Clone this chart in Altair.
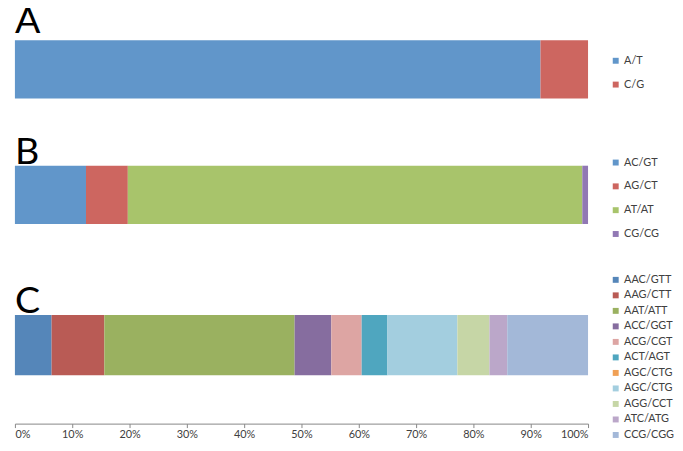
import altair as alt
import pandas as pd

a_cats = ["A/T", "C/G"]
a_vals = [91.7, 8.3]
a_colors = ["#6196CA", "#CD6660"]

b_cats = ["AC/GT", "AG/CT", "AT/AT", "CG/CG"]
b_vals = [12.4, 7.3, 79.3, 1.0]
b_colors = ["#6196CA", "#CD6660", "#A8C46B", "#9178B4"]

c_cats = ["AAC/GTT", "AAG/CTT", "AAT/ATT", "ACC/GGT", "ACG/CGT", "ACT/AGT",
          "AGC/CTG", "AGC/CTG ", "AGG/CCT", "ATC/ATG", "CCG/CGG"]
c_vals = [6.4, 9.2, 33.2, 6.4, 5.3, 4.5, 0.0, 12.2, 5.6, 3.1, 14.1]
c_colors = ["#5586B9", "#B95B55", "#9AB160", "#866D9F", "#DDA5A3", "#4FA6BF",
            "#F0A055", "#A3CEDF", "#C6D6A6", "#BBA7C9", "#A3B8D8"]

tick_values = [i / 10 for i in range(11)]

FONT = "Lato"


def panel(letter, cats, vals, colors, height, pad_outer, title_dy,
          legend_y, row_pad, show_axis):
    df = pd.DataFrame({"cat": cats, "val": vals, "idx": list(range(len(cats))),
                       "panel": [letter] * len(cats)})
    if show_axis:
        x_axis = alt.Axis(format=".0%", values=tick_values, grid=False, title=None,
                          offset=49, domainColor="#868686", tickColor="#868686",
                          tickSize=4, labelFont=FONT, labelFontSize=11,
                          labelColor="#404040", labelPadding=1)
    else:
        x_axis = None
    return alt.Chart(df, title=alt.Title(letter, anchor="start", frame="group",
                                         fontSize=38, font=FONT, fontWeight="normal",
                                         color="black", offset=0, dy=title_dy)).mark_bar().encode(
        x=alt.X("val:Q", stack="normalize", scale=alt.Scale(domain=[0, 1], nice=False),
                axis=x_axis),
        y=alt.Y("panel:N", axis=None,
                scale=alt.Scale(paddingInner=0, paddingOuter=pad_outer, align=0)),
        color=alt.Color("cat:N", scale=alt.Scale(domain=cats, range=colors),
                        legend=alt.Legend(title=None, orient="none", legendX=602.5,
                                          legendY=legend_y, symbolType="square",
                                          symbolSize=36, symbolStrokeWidth=0,
                                          labelFont=FONT, labelFontSize=11,
                                          labelColor="#404040", rowPadding=row_pad,
                                          labelOffset=3)),
        order=alt.Order("idx:Q"),
    ).properties(width=580, height=height)


pa = panel("A", a_cats, a_vals, a_colors, 59, 0, 1, 15.3, 12.1, False)
# B view is taller; the band sits at its top (align 0), leaving a larger gap to C
pb = panel("B", b_cats, b_vals, b_colors, 83, 0.2034, 15, -8.7, 12.1, False)
pc = panel("C", c_cats, c_vals, c_colors, 61, 0, 47, -41, 3.7, True)

chart = alt.vconcat(pa, pb, pc, spacing=68, bounds="flush").resolve_scale(
    color="independent"
).properties(
    padding={"left": 6, "top": -7, "right": 0, "bottom": -1},
    background="white",
).configure_view(strokeWidth=0, stroke="transparent")

chart.save("out.html", embed_options={"renderer": "svg", "actions": False})
